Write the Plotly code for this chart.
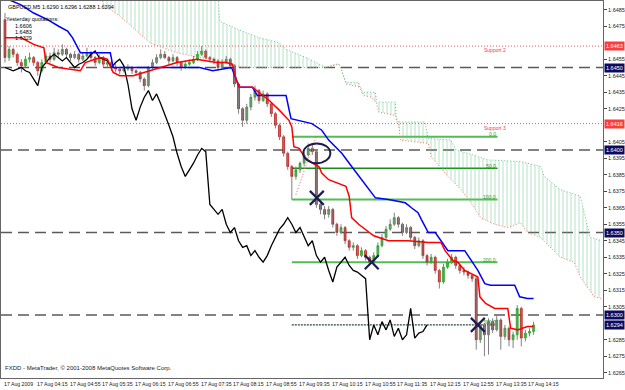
import plotly.graph_objects as go

# ---------------- data ----------------
bars = list(range(130))
open_ = [1.6479,1.6456,1.6461,1.6458,1.6453,1.6451,1.6455,1.6456,1.6453,1.6448,
         1.6453,1.6457,1.6455,1.6459,1.6458,1.6461,1.6458,1.6456,1.6458,1.6455,
         1.6457,1.6459,1.6456,1.6453,1.6456,1.6452,1.6453,1.6450,1.6449,1.6448,
         1.6449,1.6450,1.6448,1.6447,1.6443,1.6439,1.6450,1.6453,1.6456,1.6458,
         1.6456,1.6454,1.6456,1.6453,1.6450,1.6452,1.6453,1.6455,1.6458,1.6460,
         1.6456,1.6455,1.6454,1.6450,1.6453,1.6455,1.6451,1.6440,1.6425,1.6418,
         1.6426,1.6432,1.6436,1.6430,1.6434,1.6428,1.6422,1.6415,1.6408,1.6398,
         1.6390,1.6384,1.6388,1.6392,1.6397,1.6401,1.6399,1.6367,1.6364,1.6361,
         1.6364,1.6355,1.6350,1.6353,1.6345,1.6341,1.6342,1.6336,1.6339,1.6335,
         1.6332,1.6336,1.6342,1.6347,1.6352,1.6355,1.6359,1.6355,1.6350,1.6353,
         1.6347,1.6342,1.6345,1.6336,1.6332,1.6335,1.6327,1.6320,1.6329,1.6332,
         1.6335,1.6330,1.6327,1.6326,1.6324,1.6322,1.6285,1.6294,1.6288,1.6296,
         1.6291,1.6297,1.6287,1.6292,1.6285,1.6288,1.6304,1.6286,1.6289,1.6290]
high = [1.6483,1.6463,1.6462,1.6459,1.6455,1.6457,1.6459,1.6457,1.6454,1.6455,
        1.6459,1.6459,1.6462,1.6461,1.6464,1.6462,1.6459,1.6460,1.6459,1.6459,
        1.6462,1.6460,1.6457,1.6458,1.6457,1.6455,1.6454,1.6452,1.6450,1.6451,
        1.6452,1.6451,1.6449,1.6448,1.6444,1.6451,1.6455,1.6458,1.6461,1.6460,
        1.6457,1.6458,1.6457,1.6454,1.6454,1.6455,1.6457,1.6460,1.6463,1.6461,
        1.6457,1.6456,1.6455,1.6455,1.6457,1.6456,1.6452,1.6441,1.6426,1.6428,
        1.6434,1.6439,1.6437,1.6436,1.6435,1.6429,1.6423,1.6416,1.6409,1.6399,
        1.6391,1.6390,1.6393,1.6399,1.6404,1.6403,1.6400,1.6369,1.6366,1.6366,
        1.6365,1.6356,1.6355,1.6354,1.6346,1.6344,1.6343,1.6341,1.6340,1.6336,
        1.6338,1.6344,1.6349,1.6354,1.6358,1.6362,1.6360,1.6356,1.6355,1.6354,
        1.6348,1.6347,1.6346,1.6337,1.6337,1.6336,1.6328,1.6331,1.6334,1.6337,
        1.6336,1.6331,1.6329,1.6327,1.6325,1.6323,1.6296,1.6295,1.6298,1.6298,
        1.6300,1.6298,1.6294,1.6293,1.6290,1.6306,1.6305,1.6291,1.6292,1.6296]
low = [1.6453,1.6454,1.6456,1.6451,1.6447,1.6450,1.6453,1.6451,1.6445,1.6447,
       1.6452,1.6453,1.6454,1.6456,1.6457,1.6456,1.6454,1.6455,1.6453,1.6454,
       1.6456,1.6454,1.6451,1.6452,1.6450,1.6450,1.6448,1.6447,1.6446,1.6447,
       1.6448,1.6446,1.6445,1.6441,1.6436,1.6438,1.6449,1.6452,1.6455,1.6455,
       1.6452,1.6453,1.6451,1.6448,1.6449,1.6451,1.6452,1.6454,1.6457,1.6455,
       1.6453,1.6452,1.6448,1.6449,1.6452,1.6449,1.6438,1.6422,1.6414,1.6416,
       1.6424,1.6430,1.6428,1.6429,1.6426,1.6420,1.6413,1.6406,1.6396,1.6388,
       1.6370,1.6382,1.6386,1.6390,1.6396,1.6397,1.6365,1.6361,1.6358,1.6359,
       1.6353,1.6348,1.6349,1.6343,1.6339,1.6339,1.6334,1.6335,1.6333,1.6330,
       1.6331,1.6335,1.6341,1.6346,1.6351,1.6354,1.6353,1.6348,1.6349,1.6345,
       1.6340,1.6341,1.6334,1.6330,1.6331,1.6325,1.6316,1.6319,1.6328,1.6331,
       1.6328,1.6325,1.6324,1.6322,1.6320,1.6279,1.6283,1.6275,1.6276,1.6289,
       1.6290,1.6279,1.6285,1.6281,1.6280,1.6285,1.6281,1.6284,1.6287,1.6288]
close = [1.6456,1.6461,1.6458,1.6453,1.6451,1.6455,1.6456,1.6453,1.6448,1.6453,
         1.6457,1.6455,1.6459,1.6458,1.6461,1.6458,1.6456,1.6458,1.6455,1.6457,
         1.6459,1.6456,1.6453,1.6456,1.6452,1.6453,1.6450,1.6449,1.6448,1.6449,
         1.6450,1.6448,1.6447,1.6443,1.6439,1.6450,1.6453,1.6456,1.6458,1.6456,
         1.6454,1.6456,1.6453,1.6450,1.6452,1.6453,1.6455,1.6458,1.6460,1.6456,
         1.6455,1.6454,1.6450,1.6453,1.6455,1.6451,1.6440,1.6425,1.6418,1.6426,
         1.6432,1.6436,1.6430,1.6434,1.6428,1.6422,1.6415,1.6408,1.6398,1.6390,
         1.6384,1.6388,1.6392,1.6397,1.6401,1.6399,1.6367,1.6364,1.6361,1.6364,
         1.6355,1.6350,1.6353,1.6345,1.6341,1.6342,1.6336,1.6339,1.6335,1.6332,
         1.6336,1.6342,1.6347,1.6352,1.6355,1.6359,1.6355,1.6350,1.6353,1.6347,
         1.6342,1.6345,1.6336,1.6332,1.6335,1.6327,1.6320,1.6329,1.6332,1.6335,
         1.6330,1.6327,1.6326,1.6324,1.6322,1.6285,1.6294,1.6288,1.6296,1.6291,
         1.6297,1.6287,1.6292,1.6285,1.6288,1.6304,1.6286,1.6289,1.6290,1.6294]
chikou_shift = 26

tenkan_bar = [0,4,7,9.5,10,13,18.4,19.6,23.3,25,26.4,28,31.3,35.4,38.5,42,46.8,51.6,54,55.5,
              56.5,57.2,60.4,62,64.5,67,69.3,70,70.5,71.8,73,75,76.6,77.3,79,83.2,84,84.6,
              86.3,90,93.6,98.4,103.3,106.4,107.4,109.3,110.5,112.2,113.7,115.4,115.9,
              117.3,119.5,122.7,123.4,125.1,127.5,129]
tenkan = [1.6468,1.6468,1.6464,1.6462,1.6453,1.6450,1.6448,1.6453,1.6456,1.6455,1.6447,
          1.6445,1.6445,1.6448,1.6450,1.6453,1.6455,1.6453,1.6453,1.6452,1.6442,1.6438,
          1.6438,1.6435,1.6430,1.6424,1.6418,1.6414,1.6402,1.6401,1.6396,1.6392,1.6390,
          1.6386,1.6382,1.6378,1.6372,1.6359,1.6355,1.6348,1.6345,1.6345,1.6344,1.6344,
          1.6339,1.6333,1.6332,1.6327,1.6325,1.6323,1.6311,1.6307,1.6304,1.6304,1.6292,
          1.6291,1.6293,1.6293]

kijun_bar = [1,3.9,7,10.4,13.1,15.3,16.5,17.7,18.4,25.7,26.4,47.5,50.7,55.3,56.5,57.2,60.4,
             61.6,68.6,69.8,74.9,77.3,79,82.2,84.6,87,88.7,90.4,93.6,97.7,99.2,100.8,101.6,
             103.3,105,106.4,108.1,112.2,115.4,117.1,118.5,124.4,125.6,127.5,129]
kijun = [1.6491,1.6488,1.6483,1.6479,1.6475,1.6472,1.6468,1.6462,1.6459,1.6459,1.6450,
         1.6450,1.6448,1.6450,1.6442,1.6438,1.6438,1.6433,1.6433,1.6419,1.6416,1.6412,
         1.6406,1.6398,1.6390,1.6382,1.6376,1.6371,1.6370,1.6368,1.6365,1.6362,1.6358,
         1.6350,1.6350,1.6345,1.6339,1.6339,1.6327,1.6319,1.6318,1.6318,1.6311,1.6310,1.6310]

cloud_top_bar = [24,51.9,52.4,57.9,62.1,66.9,68.6,73.5,78.3,81.5,82.2,83.2,86.3,87,90.4,90.7,
                 95.3,95.5,102.5,103.3,108.8,110.1,114.2,117.8,125.8,130.7,131.6,135.5,140.4,
                 141.3,142.8,145.7]
cloud_top = [1.6497,1.6497,1.6478,1.6472,1.6468,1.6465,1.6461,1.6456,1.6450,1.6452,1.6448,
             1.6441,1.6441,1.6435,1.6435,1.6429,1.6429,1.6417,1.6417,1.6407,1.6406,1.6400,
             1.6397,1.6394,1.6393,1.6390,1.6384,1.6376,1.6372,1.6362,1.6347,1.6345]
cloud_bot_bar = [23.3,24,28.1,31.8,35.4,39.5,41.9,47.5,50.7,54.1,57.9,62.1,68.6,73.5,78.3,80.7,
                 81.5,82.2,83.2,86.8,87.5,89.5,90.7,91.2,95.3,96,96.5,103.3,104,108.1,111.3,
                 113.7,116.1,119.5,122.7,125.8,127.5,130.7,133.1,135.5,138.9,140.4,142.1,
                 143.8,145.7]
cloud_bot = [1.6494,1.6488,1.6481,1.6473,1.6465,1.6461,1.6459,1.6456,1.6455,1.6453,1.6450,
             1.6450,1.6450,1.6450,1.6450,1.6452,1.6452,1.6448,1.6440,1.6438,1.6433,1.6432,
             1.6428,1.6423,1.6421,1.6417,1.6406,1.6404,1.6396,1.6384,1.6376,1.6368,1.6359,
             1.6355,1.6353,1.6356,1.6350,1.6347,1.6341,1.6335,1.6332,1.6323,1.6317,1.6311,1.6310]

support_prices = [1.6463, 1.6416]
support_names = ["Support 2", "Support 3"]
round_prices = [1.6450, 1.6400, 1.6350, 1.6300]
bid_price = 1.6294

fib_names = ["0.0", "50.0", "100.0", "200.0", "300.0"]
fib_prices = [1.6408, 1.6389, 1.6370, 1.6332, 1.6294]
fib_start_bar, fib_end_bar = 70, 120.2

# right-axis labels visible in the reference (those under price boxes are hidden)
y_ticks = [1.6485, 1.6475, 1.6455, 1.6445, 1.6435, 1.6425, 1.6405, 1.6395,
           1.6385, 1.6375, 1.6365, 1.6355, 1.6345, 1.6335, 1.6325, 1.6315, 1.6305,
           1.6285, 1.6275, 1.6265]
time_bars = list(range(0, 129, 8))
time_labels = ["17 Aug 2009", "17 Aug 04:15", "17 Aug 04:55", "17 Aug 05:35", "17 Aug 06:15",
               "17 Aug 06:55", "17 Aug 07:35", "17 Aug 08:15", "17 Aug 08:55", "17 Aug 09:35",
               "17 Aug 10:15", "17 Aug 10:55", "17 Aug 11:35", "17 Aug 12:15", "17 Aug 12:55",
               "17 Aug 13:35", "17 Aug 14:15"]
yesterday = [1.6606, 1.6483, 1.6329]

x_marks = [(76.1, 1.6371), (89.5, 1.6332), (115.4, 1.6294)]

# ---------------- figure ----------------
Y0, Y1 = 1.626182, 1.649030
X0, X1 = -0.97, 145.94
px_y = (Y1 - Y0) / 377.0
px_x = (X1 - X0) / 606.0

fig = go.Figure()

# cloud
fig.add_trace(go.Scatter(x=cloud_bot_bar, y=cloud_bot, mode="lines",
                         line=dict(color="#f07a70", width=1, dash="1px,2px"),
                         hoverinfo="skip", showlegend=False))
fig.add_trace(go.Scatter(x=cloud_top_bar, y=cloud_top, mode="lines", fill="tonexty",
                         fillcolor="rgba(0,0,0,0)",
                         fillpattern=dict(shape="|", fgcolor="#6cc48c", size=4, solidity=0.25,
                                          bgcolor="rgba(0,0,0,0)"),
                         line=dict(color="#6cc48c", width=1, dash="1px,2px"),
                         hoverinfo="skip", showlegend=False))

shapes = []
for p in support_prices:
    shapes.append(dict(type="line", xref="paper", x0=0, x1=1, yref="y", y0=p, y1=p,
                       line=dict(color="#f05050", width=1, dash="1px,2px"), layer="below"))
for p in round_prices:
    shapes.append(dict(type="line", xref="paper", x0=0, x1=1, yref="y", y0=p, y1=p,
                       line=dict(color="#5a5a5a", width=1.5, dash="11px,6px"), layer="below"))
fib_colors = ["#55bb55", "#1a8a1a", "#55bb55", "#55bb55", "#2a4a3a"]
fib_widths = [2, 1.5, 2, 2, 1.3]
fib_dash = ["solid", "solid", "solid", "solid", "2px,1px"]
for p, c, w, d in zip(fib_prices, fib_colors, fib_widths, fib_dash):
    shapes.append(dict(type="line", xref="x", x0=fib_start_bar, x1=fib_end_bar, yref="y",
                       y0=p, y1=p, line=dict(color=c, width=w, dash=d), layer="below"))
# fib base trendline
shapes.append(dict(type="line", x0=71, x1=75.9, y0=1.6373, y1=1.6408,
                   line=dict(color="#f06060", width=1, dash="1px,2px")))
# circle
shapes.append(dict(type="circle", x0=72.8, x1=79.4, y0=1.6392, y1=1.6404,
                   line=dict(color="#1c1c50", width=2)))
# X marks
for bx, by in x_marks:
    dx, dy = 7 * px_x, 7 * px_y
    shapes.append(dict(type="line", x0=bx - dx, x1=bx + dx, y0=by - dy, y1=by + dy,
                       line=dict(color="#1c1c50", width=2.2)))
    shapes.append(dict(type="line", x0=bx - dx, x1=bx + dx, y0=by + dy, y1=by - dy,
                       line=dict(color="#1c1c50", width=2.2)))

# wicks
wx, wy = [], []
for b, h, l in zip(bars, high, low):
    wx += [b, b, None]
    wy += [l, h, None]
fig.add_trace(go.Scatter(x=wx, y=wy, mode="lines", line=dict(color="#808080", width=1),
                         hoverinfo="skip", showlegend=False))
# bodies
body_hi = [max(o, c) for o, c in zip(open_, close)]
body_lo = [min(o, c) for o, c in zip(open_, close)]
fig.add_trace(go.Candlestick(x=bars, open=open_, high=body_hi, low=body_lo, close=close,
                             increasing=dict(fillcolor="#22dd22", line=dict(color="#129012", width=0.6)),
                             decreasing=dict(fillcolor="#ee1111", line=dict(color="#a01010", width=0.6)),
                             whiskerwidth=0, showlegend=False, hoverinfo="skip"))

# chikou
fig.add_trace(go.Scatter(x=bars[:len(bars) - chikou_shift], y=close[chikou_shift:], mode="lines",
                         line=dict(color="#000000", width=1.3), hoverinfo="skip", showlegend=False))
# kijun
fig.add_trace(go.Scatter(x=kijun_bar, y=kijun, mode="lines",
                         line=dict(color="#0000ff", width=1.5), hoverinfo="skip", showlegend=False))
# tenkan
fig.add_trace(go.Scatter(x=tenkan_bar, y=tenkan, mode="lines",
                         line=dict(color="#ff0000", width=1.5), hoverinfo="skip", showlegend=False))

ann = []
FONT = "Liberation Sans, Arial, sans-serif"
# time labels
for b, t in zip(time_bars, time_labels):
    ann.append(dict(x=b, y=0, xref="x", yref="paper", text=t, showarrow=False,
                    xanchor="left", yanchor="top", xshift=-3, yshift=-1,
                    font=dict(size=5.2, color="#222", family=FONT)))
# boxed price labels
box_items = [(support_prices[0], "#ff3a3a"), (round_prices[0], "#0a0a5e"),
             (support_prices[1], "#ff3a3a"), (round_prices[1], "#0a0a5e"),
             (round_prices[2], "#0a0a5e"), (round_prices[3], "#0a0a5e"), (bid_price, "#0a0a5e")]
for p, col in box_items:
    ann.append(dict(x=1, y=p, xref="paper", yref="y", text=f"{p:.4f}", showarrow=False,
                    xanchor="left", yanchor="middle", xshift=1, bgcolor=col, borderpad=1,
                    font=dict(size=5.5, color="white", family=FONT)))
# support labels
for p, n in zip(support_prices, support_names):
    ann.append(dict(x=119.5, y=p, xref="x", yref="y", text=n, showarrow=False,
                    xanchor="center", yanchor="top", yshift=1,
                    font=dict(size=5, color="#f04040", family=FONT)))
# fib labels
for p, n in zip(fib_prices, fib_names):
    ann.append(dict(x=fib_end_bar, y=p, xref="x", yref="y", text=n, showarrow=False,
                    xanchor="right", yanchor="bottom", yshift=-2.5,
                    font=dict(size=5, color="#2a9a2a", family=FONT)))
# header
last = len(bars) - 1
ann.append(dict(x=0, y=1, xref="paper", yref="paper", xanchor="left", yanchor="top",
                xshift=5, yshift=-1, showarrow=False,
                text=f"GBPUSD,M5 {open_[last]:.4f} {high[last]:.4f} {low[last]:.4f} {close[last]:.4f}",
                font=dict(size=5.5, color="#000", family=FONT)))
ann.append(dict(x=0, y=1, xref="paper", yref="paper", xanchor="left", yanchor="top",
                xshift=3, yshift=-13, showarrow=False, text="Yesterday quotations:",
                font=dict(size=5.5, color="#000", family=FONT)))
for k, v in enumerate(yesterday):
    ann.append(dict(x=0, y=1, xref="paper", yref="paper", xanchor="left", yanchor="top",
                    xshift=12, yshift=-20 - 6 * k, showarrow=False, text=f"{v:.4f}",
                    font=dict(size=5.5, color="#000", family=FONT)))
ann.append(dict(x=0, y=0, xref="paper", yref="paper", xanchor="left", yanchor="bottom",
                xshift=2, yshift=5, showarrow=False,
                text="FXDD - MetaTrader, \u00a9 2001-2008 MetaQuotes Software Corp.",
                font=dict(size=6, color="#222", family=FONT)))

fig.update_layout(
    width=625, height=390, margin=dict(l=0, r=19, t=1, b=12),
    paper_bgcolor="white", plot_bgcolor="white", showlegend=False,
    shapes=shapes, annotations=ann,
    xaxis=dict(range=[X0, X1], showgrid=False, zeroline=False, showticklabels=False,
               showline=True, mirror=True, linecolor="#666", linewidth=1,
               rangeslider=dict(visible=False), ticks=""),
    yaxis=dict(range=[Y0, Y1], side="right", showgrid=False, zeroline=False,
               tickvals=y_ticks, ticktext=[f"{v:.4f}" for v in y_ticks],
               ticks="outside", ticklen=3, tickcolor="#444",
               tickfont=dict(size=5.5, color="#222", family=FONT),
               showline=True, mirror=True, linecolor="#666", linewidth=1),
)

fig.write_html("out.html")
